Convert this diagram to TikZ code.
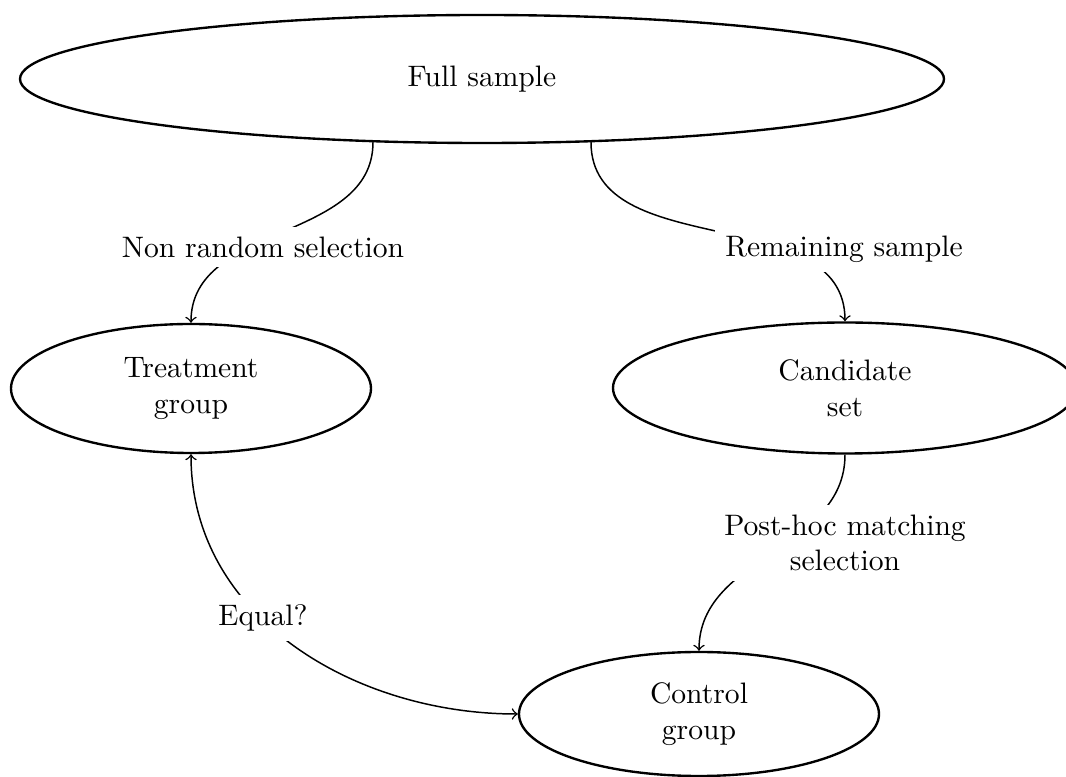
\documentclass[tikz,border=0pt]{standalone}
\usetikzlibrary{shapes.geometric}
\begin{document}
\begin{tikzpicture}[x=0.3378pt,y=0.3378pt,
  blob/.style={ellipse,draw,line width=0.8pt,inner sep=0pt,align=center},
  conn/.style={line width=0.5pt},
  lbl/.style={fill=white,align=center}]
\useasboundingbox (0,0) rectangle (1066,777);
\node[blob,minimum width=924*0.3378pt,minimum height=128*0.3378pt] (full) at (482,698) {Full sample};
\node[blob,minimum width=360*0.3378pt,minimum height=129*0.3378pt] (treat) at (191,388.5) {Treatment\\group};
\node[blob,minimum width=464*0.3378pt,minimum height=131*0.3378pt] (cand) at (845,389) {Candidate\\set};
\node[blob,minimum width=360*0.3378pt,minimum height=124*0.3378pt] (ctrl) at (699,63) {Control\\group};
\draw[conn,->] ([shift={(-109,2)}]full.south) to[out=-90,in=90] (treat.north);
\draw[conn,->] ([shift={(109,2)}]full.south) to[out=-90,in=90] (cand.north);
\draw[conn,->] (cand.south) to[out=-90,in=90] (ctrl.north);
\draw[conn,<->] (treat.south) to[out=-90,in=180] (ctrl.west);
\node[lbl] (l1) at (263,530) {Non random selection};
\node[lbl] (l2) at (844,528) {Remaining sample};
\node[lbl] (l3) at (845,234) {Post-hoc matching\\selection};
\node[lbl] (l4) at (263,159) {Equal?};
\end{tikzpicture}
\end{document}
